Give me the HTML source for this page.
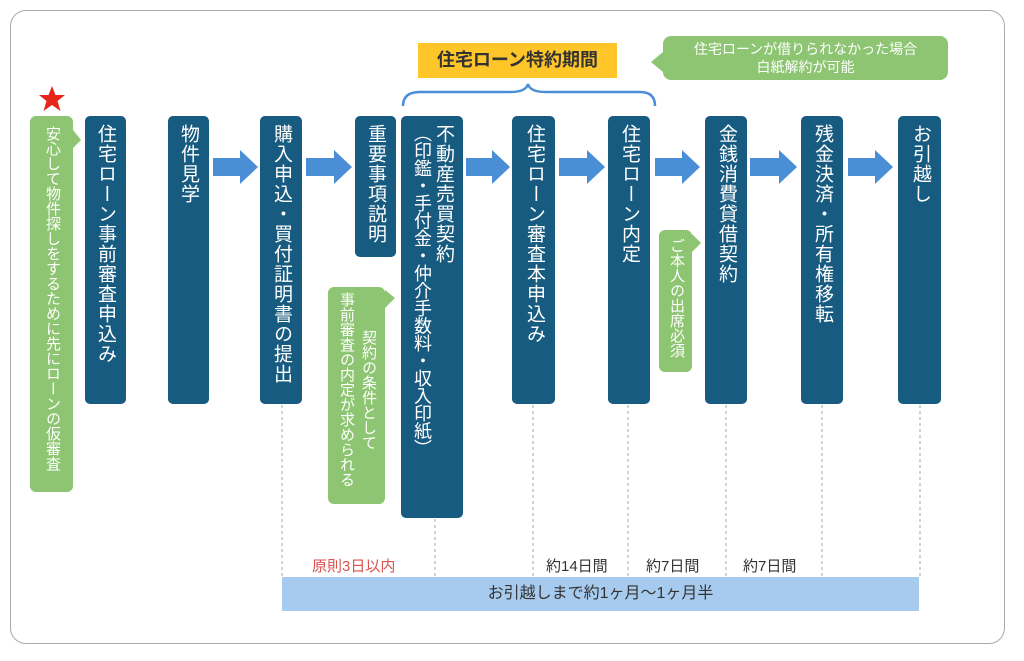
<!DOCTYPE html>
<html><head><meta charset="utf-8"><style>
body{margin:0;width:1024px;height:661px;background:#fff;position:relative;overflow:hidden;font-family:"Liberation Sans","Noto Sans CJK JP",sans-serif}
.frame{position:absolute;left:10px;top:10px;width:995px;height:634px;border:1.5px solid #aaa;border-radius:16px;box-sizing:border-box}
.b{position:absolute;background:#175b80;border-radius:5px;color:#fff;writing-mode:vertical-rl;text-orientation:mixed;font-size:19px;line-height:22px;box-sizing:border-box;padding-top:8px;padding-right:10px;letter-spacing:1px}
.g{position:absolute;background:#8dc572;border-radius:6px;color:#fff;writing-mode:vertical-rl;text-orientation:mixed;font-size:14px;line-height:16px;box-sizing:border-box;padding-top:8px}
.v{position:absolute;color:#fff;writing-mode:vertical-rl;text-orientation:mixed;font-size:15px;line-height:16px}
.t{position:absolute;font-size:15px;color:#333;white-space:nowrap}
</style></head><body>
<div class="frame"></div>
<svg width="1024" height="661" style="position:absolute;left:0;top:0">
<polygon points="52,86 55.5,95 65,95 57.5,101 60.5,111 52,105 43.5,111 46.5,101 39,95 48.5,95" fill="#e8251b"/>
<g fill="#4a8fd6">
<polygon points="213,158 240,158 240,150 258,167 240,184 240,176 213,176"/>
<polygon points="306,158 334,158 334,150 352,167 334,184 334,176 306,176"/>
<polygon points="466,158 492,158 492,150 510,167 492,184 492,176 466,176"/>
<polygon points="559,158 587,158 587,150 605,167 587,184 587,176 559,176"/>
<polygon points="655,158 682,158 682,150 700,167 682,184 682,176 655,176"/>
<polygon points="750,158 779,158 779,150 797,167 779,184 779,176 750,176"/>
<polygon points="848,158 875,158 875,150 893,167 875,184 875,176 848,176"/>
</g>
<path d="M403,106 Q403,92 420,92 L510,92 Q526,92 528,84 Q530,92 546,92 L640,92 Q655,92 655,106" fill="none" stroke="#4a8fd6" stroke-width="2.5"/>
<g stroke="#9ab" stroke-width="1" stroke-dasharray="3,3">
<line x1="282" y1="405" x2="282" y2="577"/><line x1="435" y1="519" x2="435" y2="577"/>
<line x1="533" y1="405" x2="533" y2="577"/><line x1="628" y1="405" x2="628" y2="577"/>
<line x1="726" y1="405" x2="726" y2="577"/><line x1="822" y1="405" x2="822" y2="577"/>
<line x1="920" y1="405" x2="920" y2="577"/>
</g>
<polygon points="73,130 81,140 73,148" fill="#8dc572"/>
<polygon points="385,290 395,298 385,308" fill="#8dc572"/>
<polygon points="692,234 701,243 692,252" fill="#8dc572"/>
<polygon points="663,52 651,62 663,72" fill="#8dc572"/>
</svg>
<div class="g" style="left:30px;top:116px;width:43px;height:376px;font-size:15px;line-height:16px;padding-right:13px;padding-top:10px">安心して物件探しをするために先にローンの仮審査</div>
<div class="b" style="left:85px;top:116px;width:41px;height:288px">住宅ローン事前審査申込み</div>
<div class="b" style="left:168px;top:116px;width:41px;height:288px">物件見学</div>
<div class="b" style="left:260px;top:116px;width:42px;height:288px">購入申込・買付証明書の提出</div>
<div class="b" style="left:355px;top:116px;width:41px;height:141px">重要事項説明</div>
<div class="b" style="left:401px;top:116px;width:62px;height:402px;line-height:21px;padding-right:9px">不動産売買契約<br><span style="font-size:18px;letter-spacing:-0.5px">（印鑑・手付金・仲介手数料・収入印紙）</span></div>
<div style="position:absolute;left:328px;top:287px;width:57px;height:217px;background:#8dc572;border-radius:6px"></div>
<div class="v" style="left:360px;top:330px">契約の条件として</div>
<div class="v" style="left:338px;top:292px">事前審査の内定が求められる</div>
<div class="b" style="left:512px;top:116px;width:43px;height:288px">住宅ローン審査本申込み</div>
<div class="b" style="left:608px;top:116px;width:42px;height:288px">住宅ローン内定</div>
<div class="g" style="left:659px;top:230px;width:33px;height:142px;font-size:15px;padding-right:8px">ご本人の出席必須</div>
<div class="b" style="left:705px;top:116px;width:42px;height:288px">金銭消費貸借契約</div>
<div class="b" style="left:801px;top:116px;width:42px;height:288px">残金決済・所有権移転</div>
<div class="b" style="left:898px;top:116px;width:43px;height:288px">お引越し</div>
<div style="position:absolute;left:418px;top:43px;width:199px;height:35px;background:#ffc629;color:#333;font-weight:bold;font-size:18px;line-height:35px;text-align:center">住宅ローン特約期間</div>
<div style="position:absolute;left:663px;top:36px;width:285px;height:44px;background:#8dc572;border-radius:8px;color:#fff;font-size:14px;line-height:18px;text-align:center;padding-top:4px;box-sizing:border-box">住宅ローンが借りられなかった場合<br>白紙解約が可能</div>
<div class="t" style="left:312px;top:555px;color:#d9534f">原則3日以内</div>
<div class="t" style="left:546px;top:555px">約14日間</div>
<div class="t" style="left:646px;top:555px">約7日間</div>
<div class="t" style="left:743px;top:555px">約7日間</div>
<div style="position:absolute;left:282px;top:577px;width:637px;height:34px;background:#a7cbee;color:#333;font-size:16px;line-height:34px;text-align:center">お引越しまで約1ヶ月〜1ヶ月半</div>
</body></html>
